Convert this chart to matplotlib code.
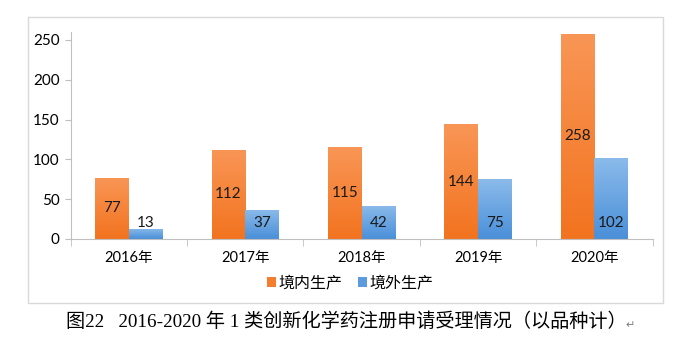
import numpy as np
import matplotlib.pyplot as plt
from matplotlib.colors import LinearSegmentedColormap
from matplotlib.patches import Rectangle

years = ["2016年", "2017年", "2018年", "2019年", "2020年"]
domestic = [77, 112, 115, 144, 258]
overseas = [13, 37, 42, 75, 102]
series_names = ["境内生产", "境外生产"]
caption = "图22   2016-2020 年 1 类创新化学药注册申请受理情况（以品种计）"

plt.rcParams['font.family'] = ['Lato', 'Noto Sans CJK SC', 'DejaVu Sans']

fig = plt.figure(figsize=(6.89, 3.38), dpi=100)
ax = fig.add_axes([0.1026, 0.2929, 0.8447, 0.6124])

# outer chart frame
fig.patches.append(Rectangle((28 / 689, 35 / 338), 635 / 689, 286 / 338,
                             transform=fig.transFigure, fill=False,
                             edgecolor="#d9d9d9", linewidth=1.0))

x = np.arange(len(years))
w = 0.29
orange_cmap = LinearSegmentedColormap.from_list("o", ["#f2731f", "#f99656"])
blue_cmap = LinearSegmentedColormap.from_list("b", ["#4a8fd9", "#8bbbea"])

bars1 = ax.bar(x - w / 2, domestic, w, color="#f47d2e", label=series_names[0])
bars2 = ax.bar(x + w / 2, overseas, w, color="#5b9bde", label=series_names[1])

grad = np.linspace(0, 1, 256).reshape(-1, 1)
for bars, cmap in ((bars1, orange_cmap), (bars2, blue_cmap)):
    for b in bars:
        x0, y0 = b.get_x(), b.get_y()
        im = ax.imshow(grad, cmap=cmap, origin="lower", aspect="auto",
                       extent=(x0, x0 + b.get_width(), y0, y0 + b.get_height()),
                       zorder=2)
        im.set_clip_path(b)

for b, v in zip(bars1, domestic):
    ax.text(b.get_x() + b.get_width() / 2, v / 2, str(v), ha="center",
            va="center", fontsize=11, color="#1a1a1a", zorder=3)
for b, v in zip(bars2, overseas):
    ax.text(b.get_x() + b.get_width() / 2, 20, str(v), ha="center",
            va="center", fontsize=11, color="#1a1a1a", zorder=3)

ax.set_xlim(-0.5, len(years) - 0.5)
ax.set_ylim(0, 260)
ax.set_yticks(range(0, 251, 50))
ax.set_xticks(x)
ax.set_xticklabels(years)
ax.set_xticks(np.arange(-0.5, len(years)), minor=True)

for s in ("top", "right"):
    ax.spines[s].set_visible(False)
for s in ("left", "bottom"):
    ax.spines[s].set_color("#bfbfbf")
ax.tick_params(axis="y", length=4, color="#bfbfbf", labelsize=11, pad=4)
ax.tick_params(axis="x", which="major", length=0, labelsize=10.5, pad=9)
ax.tick_params(axis="x", which="minor", length=5, color="#bfbfbf")

leg = fig.legend(handles=[bars1, bars2], loc="center", ncol=2,
                 bbox_to_anchor=(350 / 689, 1 - 283 / 338), frameon=False,
                 fontsize=11.5, handlelength=0.55, handleheight=0.55,
                 handletextpad=0.15, columnspacing=1.0)

fig.text(66 / 689, 1 - 322 / 338, caption, ha="left", va="center",
         fontsize=13.8, family=['Liberation Serif', 'Noto Sans CJK SC'])
fig.text(630 / 689, 1 - 325 / 338, "↵", ha="center", va="center",
         fontsize=8, color="#808080", family="DejaVu Sans")

fig.savefig("out.png", dpi=100)
